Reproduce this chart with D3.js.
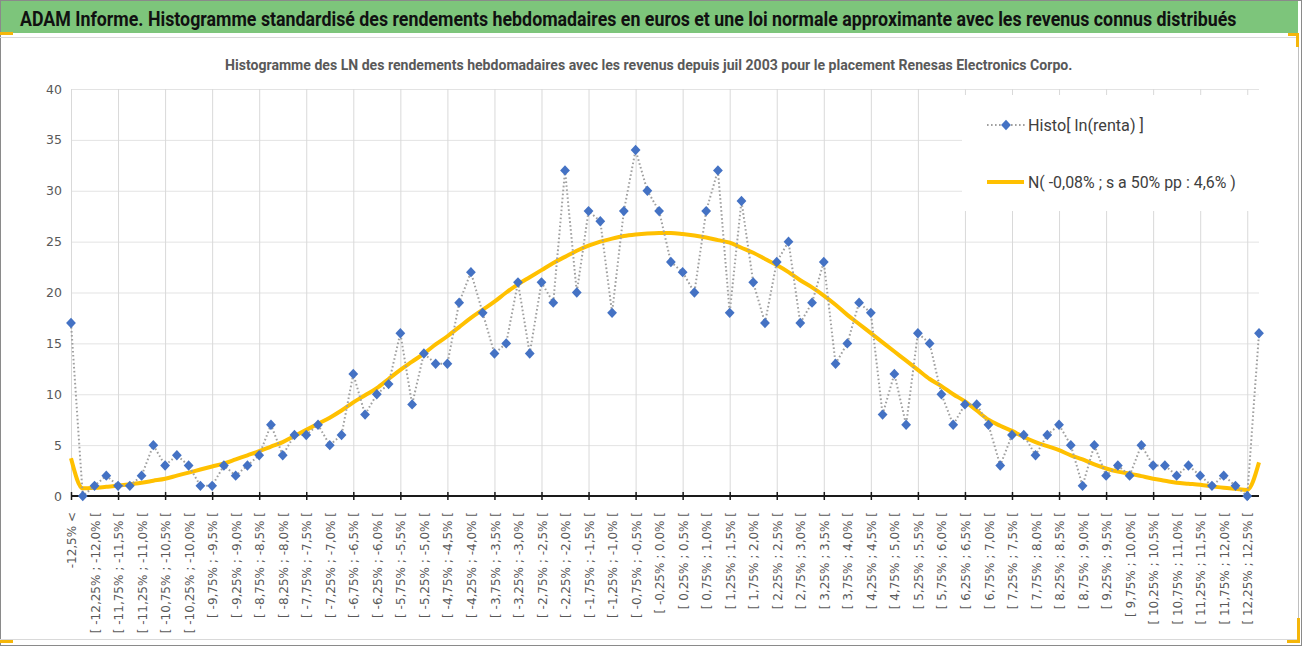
<!DOCTYPE html>
<html>
<head>
<meta charset="utf-8">
<script src="https://cdn.jsdelivr.net/npm/d3@7"></script>
<style>
  html, body { margin: 0; padding: 0; background: #ffffff; }
  svg { display: block; }
</style>
</head>
<body>
<script>
// ---------------- DATA ----------------
const categories = [
  "-12,5% <",
  "[ -12,5% ; -12,25% [", "[ -12,25% ; -12,0% [", "[ -12,0% ; -11,75% [", "[ -11,75% ; -11,5% [",
  "[ -11,5% ; -11,25% [", "[ -11,25% ; -11,0% [", "[ -11,0% ; -10,75% [", "[ -10,75% ; -10,5% [",
  "[ -10,5% ; -10,25% [", "[ -10,25% ; -10,0% [", "[ -10,0% ; -9,75% [", "[ -9,75% ; -9,5% [",
  "[ -9,5% ; -9,25% [", "[ -9,25% ; -9,0% [", "[ -9,0% ; -8,75% [", "[ -8,75% ; -8,5% [",
  "[ -8,5% ; -8,25% [", "[ -8,25% ; -8,0% [", "[ -8,0% ; -7,75% [", "[ -7,75% ; -7,5% [",
  "[ -7,5% ; -7,25% [", "[ -7,25% ; -7,0% [", "[ -7,0% ; -6,75% [", "[ -6,75% ; -6,5% [",
  "[ -6,5% ; -6,25% [", "[ -6,25% ; -6,0% [", "[ -6,0% ; -5,75% [", "[ -5,75% ; -5,5% [",
  "[ -5,5% ; -5,25% [", "[ -5,25% ; -5,0% [", "[ -5,0% ; -4,75% [", "[ -4,75% ; -4,5% [",
  "[ -4,5% ; -4,25% [", "[ -4,25% ; -4,0% [", "[ -4,0% ; -3,75% [", "[ -3,75% ; -3,5% [",
  "[ -3,5% ; -3,25% [", "[ -3,25% ; -3,0% [", "[ -3,0% ; -2,75% [", "[ -2,75% ; -2,5% [",
  "[ -2,5% ; -2,25% [", "[ -2,25% ; -2,0% [", "[ -2,0% ; -1,75% [", "[ -1,75% ; -1,5% [",
  "[ -1,5% ; -1,25% [", "[ -1,25% ; -1,0% [", "[ -1,0% ; -0,75% [", "[ -0,75% ; -0,5% [",
  "[ -0,5% ; -0,25% [", "[ -0,25% ; 0,0% [", "[ 0,0% ; 0,25% [", "[ 0,25% ; 0,5% [",
  "[ 0,5% ; 0,75% [", "[ 0,75% ; 1,0% [", "[ 1,0% ; 1,25% [", "[ 1,25% ; 1,5% [",
  "[ 1,5% ; 1,75% [", "[ 1,75% ; 2,0% [", "[ 2,0% ; 2,25% [", "[ 2,25% ; 2,5% [",
  "[ 2,5% ; 2,75% [", "[ 2,75% ; 3,0% [", "[ 3,0% ; 3,25% [", "[ 3,25% ; 3,5% [",
  "[ 3,5% ; 3,75% [", "[ 3,75% ; 4,0% [", "[ 4,0% ; 4,25% [", "[ 4,25% ; 4,5% [",
  "[ 4,5% ; 4,75% [", "[ 4,75% ; 5,0% [", "[ 5,0% ; 5,25% [", "[ 5,25% ; 5,5% [",
  "[ 5,5% ; 5,75% [", "[ 5,75% ; 6,0% [", "[ 6,0% ; 6,25% [", "[ 6,25% ; 6,5% [",
  "[ 6,5% ; 6,75% [", "[ 6,75% ; 7,0% [", "[ 7,0% ; 7,25% [", "[ 7,25% ; 7,5% [",
  "[ 7,5% ; 7,75% [", "[ 7,75% ; 8,0% [", "[ 8,0% ; 8,25% [", "[ 8,25% ; 8,5% [",
  "[ 8,5% ; 8,75% [", "[ 8,75% ; 9,0% [", "[ 9,0% ; 9,25% [", "[ 9,25% ; 9,5% [",
  "[ 9,5% ; 9,75% [", "[ 9,75% ; 10,0% [", "[ 10,0% ; 10,25% [", "[ 10,25% ; 10,5% [",
  "[ 10,5% ; 10,75% [", "[ 10,75% ; 11,0% [", "[ 11,0% ; 11,25% [", "[ 11,25% ; 11,5% [",
  "[ 11,5% ; 11,75% [", "[ 11,75% ; 12,0% [", "[ 12,0% ; 12,25% [", "[ 12,25% ; 12,5% [",
  "12,5% >"
];

// Histo[ ln(renta) ] : counts per bin
const histoValues = [
  17, 0, 1, 2, 1, 1, 2, 5, 3, 4,
  3, 1, 1, 3, 2, 3, 4, 7, 4, 6,
  6, 7, 5, 6, 12, 8, 10, 11, 16, 9,
  14, 13, 13, 19, 22, 18, 14, 15, 21, 14,
  21, 19, 32, 20, 28, 27, 18, 28, 34, 30,
  28, 23, 22, 20, 28, 32, 18, 29, 21, 17,
  23, 25, 17, 19, 23, 13, 15, 19, 18, 8,
  12, 7, 16, 15, 10, 7, 9, 9, 7, 3,
  6, 6, 4, 6, 7, 5, 1, 5, 2, 3,
  2, 5, 3, 3, 2, 3, 2, 1, 2, 1,
  0, 16
];

// N( -0,08% ; s a 50% pp : 4,6% ) : approximating normal
const normalValues = [
  3.7, 0.75, 0.8, 0.9, 1.0, 1.15, 1.3, 1.5, 1.7, 2.0,
  2.3, 2.6, 2.9, 3.2, 3.6, 4.0, 4.4, 4.85, 5.3, 5.9,
  6.5, 7.1, 7.7, 8.4, 9.2, 9.9, 10.6, 11.5, 12.4, 13.2,
  14.0, 14.9, 15.7, 16.6, 17.5, 18.3, 19.1, 20.0, 20.8, 21.5,
  22.2, 22.9, 23.5, 24.1, 24.6, 25.0, 25.3, 25.55, 25.7, 25.8,
  25.85, 25.85, 25.75, 25.6, 25.4, 25.15, 24.9, 24.4, 23.9, 23.3,
  22.7, 22.0, 21.2, 20.5, 19.7, 18.8, 17.8, 16.9, 16.0, 15.1,
  14.2, 13.3, 12.4, 11.5, 10.8, 10.0, 9.3, 8.4, 7.5, 6.9,
  6.4, 5.8, 5.3, 4.9, 4.5, 4.0, 3.6, 3.1, 2.7, 2.4,
  2.2, 1.95, 1.7, 1.5, 1.3, 1.2, 1.1, 0.95, 0.8, 0.7,
  0.6, 3.3
];

const yTicks = [0, 5, 10, 15, 20, 25, 30, 35, 40];
const yDomain = [0, 40];

const titleText = "ADAM Informe. Histogramme standardisé des rendements hebdomadaires en euros et une loi normale approximante avec les revenus connus distribués";
const subtitleText = "Histogramme des LN des rendements hebdomadaires avec les revenus depuis juil 2003 pour le placement Renesas Electronics Corpo.";
const seriesNames = ["Histo[ ln(renta) ]", "N( -0,08% ; s a 50% pp : 4,6% )"];

// ---------------- LAYOUT ----------------
const W = 1302, H = 647;
const plot = { left: 71, right: 1259, top: 89, bottom: 496 };

const svg = d3.select("body").append("svg")
  .attr("width", W).attr("height", H)
  .attr("viewBox", `0 0 ${W} ${H}`);

// Fit a text horizontally to a target width by scaling it (keeps glyph height)
function fitText(sel, x0, y0, targetWidth) {
  const node = sel.node();
  const natural = node.getComputedTextLength();
  const sx = natural > 0 ? targetWidth / natural : 1;
  sel.attr("x", 0).attr("y", 0)
     .attr("transform", `translate(${x0},${y0}) scale(${sx},1)`);
  return sel;
}

// frame & title bar
svg.append("rect").attr("x", 0).attr("y", 0).attr("width", W).attr("height", H).attr("fill", "#ffffff");
svg.append("rect").attr("x", 1).attr("y", 1).attr("width", 1297).attr("height", 32).attr("fill", "#7dc57b");
svg.append("rect").attr("x", 0.5).attr("y", 0.5).attr("width", W - 1).attr("height", H - 2)
  .attr("fill", "none").attr("stroke", "#8a8a8a").attr("stroke-width", 1);
svg.append("line").attr("x1", 0).attr("x2", 1298).attr("y1", 37.5).attr("y2", 37.5)
  .attr("stroke", "#d9d9d9").attr("stroke-width", 1);
svg.append("line").attr("x1", 1298.5).attr("x2", 1298.5).attr("y1", 33).attr("y2", 640)
  .attr("stroke", "#bfbfbf").attr("stroke-width", 1);
svg.append("line").attr("x1", 0).attr("x2", 1298).attr("y1", 639.5).attr("y2", 639.5)
  .attr("stroke", "#d9d9d9").attr("stroke-width", 1);

// selection handles (orange)
const handleColor = "#f5b60a";
[[0, 32, 13, 3], [1288, 33, 11, 3], [1296, 33, 3, 14],
 [1287, 640, 13, 3], [1297, 618, 3, 25], [0, 640, 13, 3]].forEach(r => {
  svg.append("rect").attr("x", r[0]).attr("y", r[1]).attr("width", r[2]).attr("height", r[3]).attr("fill", handleColor);
});

fitText(svg.append("text")
  .attr("font-family", "Roboto, 'Liberation Sans', sans-serif")
  .attr("font-weight", "bold").attr("font-size", 21)
  .attr("fill", "#111111")
  .text(titleText), 20, 26, 1217);

fitText(svg.append("text")
  .attr("font-family", "Roboto, 'Liberation Sans', sans-serif")
  .attr("font-weight", "bold").attr("font-size", 14)
  .attr("fill", "#595959")
  .text(subtitleText), 225, 70, 848);

// ---------------- SCALES ----------------
const x = d3.scalePoint().domain(categories).range([plot.left, plot.right]);
const y = d3.scaleLinear().domain(yDomain).range([plot.bottom, plot.top]);

const gridCats = categories.filter((d, i) => i % 4 === 0);
const labelCats = categories.filter((d, i) => i % 2 === 0 && i <= 100);

// horizontal gridlines
svg.append("g")
  .attr("transform", `translate(${plot.left},0)`)
  .call(d3.axisLeft(y).tickValues(yTicks).tickSize(-(plot.right - plot.left)).tickFormat(""))
  .call(g => g.select(".domain").remove())
  .call(g => g.selectAll("line").attr("stroke", "#e3e3e3").attr("stroke-width", 1));

// vertical gridlines
svg.append("g")
  .attr("transform", `translate(0,${plot.bottom})`)
  .call(d3.axisBottom(x).tickValues(gridCats).tickSize(-(plot.bottom - plot.top)).tickFormat(""))
  .call(g => g.select(".domain").remove())
  .call(g => g.selectAll("line").attr("stroke", "#d9d9d9").attr("stroke-width", 1));

// y axis labels
svg.append("g")
  .attr("transform", `translate(${plot.left},0)`)
  .call(d3.axisLeft(y).tickValues(yTicks).tickSize(0).tickPadding(9))
  .call(g => g.select(".domain").remove())
  .call(g => g.selectAll("text")
    .attr("font-family", "'DejaVu Sans', sans-serif")
    .attr("font-size", 12.5)
    .attr("fill", "#595959"));

// ---------------- SERIES ----------------
// normal curve
const curveLine = d3.line()
  .x((d, i) => x(categories[i]))
  .y(d => y(d))
  .curve(d3.curveMonotoneX);
svg.append("path")
  .datum(normalValues)
  .attr("d", curveLine)
  .attr("fill", "none")
  .attr("stroke", "#ffc000")
  .attr("stroke-width", 4)
  .attr("stroke-linejoin", "round");

// histogram dotted line
const histoLine = d3.line()
  .x((d, i) => x(categories[i]))
  .y(d => y(d));
svg.append("path")
  .datum(histoValues)
  .attr("d", histoLine)
  .attr("fill", "none")
  .attr("stroke", "#a0a0a0")
  .attr("stroke-width", 2)
  .attr("stroke-dasharray", "1.6,2.4");

// x axis line and ticks
svg.append("g")
  .attr("transform", `translate(0,${plot.bottom})`)
  .call(d3.axisBottom(x).tickValues(gridCats).tickSize(4).tickFormat("").tickSizeOuter(0))
  .call(g => g.select(".domain").attr("stroke", "#1a1a1a").attr("stroke-width", 2.2)
      .attr("d", `M${plot.left},0H${plot.right}`))
  .call(g => g.selectAll(".tick line").attr("y1", -4).attr("y2", 4)
      .attr("stroke", "#1a1a1a").attr("stroke-width", 1.5));

// diamonds
const diamond = "M0,-5.2L4.9,0L0,5.2L-4.9,0Z";
svg.append("g")
  .selectAll("path")
  .data(histoValues)
  .join("path")
  .attr("d", diamond)
  .attr("transform", (d, i) => `translate(${x(categories[i])},${y(d)})`)
  .attr("fill", "#4472c4");

// category labels
svg.append("g")
  .attr("transform", `translate(0,${plot.bottom})`)
  .call(d3.axisBottom(x).tickValues(labelCats).tickSize(0))
  .call(g => g.select(".domain").remove())
  .call(g => g.selectAll("text")
    .attr("transform", "rotate(-90)")
    .attr("text-anchor", "end")
    .attr("x", -16).attr("y", 0).attr("dy", "0.38em")
    .attr("font-family", "'DejaVu Sans', sans-serif")
    .attr("font-size", 12)
    .attr("fill", "#595959"));

// ---------------- LEGEND ----------------
const lg = svg.append("g");
lg.append("rect").attr("x", 962).attr("y", 95).attr("width", 300).attr("height", 116).attr("fill", "#ffffff");
lg.append("line").attr("x1", 987).attr("x2", 1025).attr("y1", 125).attr("y2", 125)
  .attr("stroke", "#a0a0a0").attr("stroke-width", 2).attr("stroke-dasharray", "1.6,2.4");
lg.append("path").attr("d", diamond).attr("transform", "translate(1006,125)").attr("fill", "#4472c4");
lg.append("line").attr("x1", 987).attr("x2", 1024).attr("y1", 182).attr("y2", 182)
  .attr("stroke", "#ffc000").attr("stroke-width", 4);
fitText(lg.append("text")
  .attr("font-family", "Roboto, 'Liberation Sans', sans-serif").attr("font-size", 17)
  .attr("fill", "#404040")
  .text(seriesNames[0]), 1028, 131, 116);
fitText(lg.append("text")
  .attr("font-family", "Roboto, 'Liberation Sans', sans-serif").attr("font-size", 17)
  .attr("fill", "#404040")
  .text(seriesNames[1]), 1028, 188, 208);
</script>
</body>
</html>
